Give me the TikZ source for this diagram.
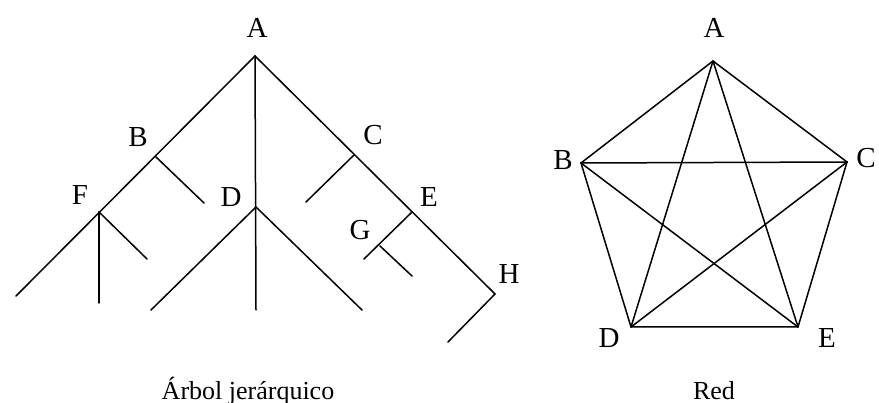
\documentclass[tikz,border=0pt]{standalone}
\usepackage{fontspec}
\setmainfont{Liberation Serif}
\begin{document}
\begin{tikzpicture}[x=1pt,y=-1pt,
  edge/.style={line width=1.5pt,line cap=round},
  lbl/.style={font=\fontsize{29}{31}\selectfont,inner sep=0pt},
  captxt/.style={font=\fontsize{26}{28}\selectfont,inner sep=0pt}]
\useasboundingbox (0,0) rectangle (879,403);
% ---- tree ----
\coordinate (tA) at (255,56);
\coordinate (tAv) at (256,310);
\coordinate (tLend) at (16,296);
\coordinate (tB) at (156,157);
\coordinate (tBend) at (204,203);
\coordinate (tF) at (99,212);
\coordinate (tFv) at (99,303);
\coordinate (tFd) at (147,259);
\coordinate (tD) at (256,207);
\coordinate (tDl) at (151,310);
\coordinate (tDr) at (362,310);
\coordinate (tH) at (495,294);
\coordinate (tC) at (354,155);
\coordinate (tCend) at (306,202);
\coordinate (tE) at (412,212);
\coordinate (tG) at (380,246);
\coordinate (tGl) at (364,259);
\coordinate (tGr) at (412,276);
\coordinate (tHend) at (448,342);
\draw[edge] (tA) -- (tAv);
\draw[edge] (tA) -- (tLend);
\draw[edge] (tB) -- (tBend);
\draw[edge] (tF) -- (tFv);
\draw[edge] (tF) -- (tFd);
\draw[edge] (tD) -- (tDl);
\draw[edge] (tD) -- (tDr);
\draw[edge] (tA) -- (tH) -- (tHend);
\draw[edge] (tC) -- (tCend);
\draw[edge] (tE) -- (tGl);
\draw[edge] (tG) -- (tGr);
\node[lbl] (ltA) at (257,28) {A};
\node[lbl] (ltB) at (138,137) {B};
\node[lbl] (ltC) at (373,135) {C};
\node[lbl] (ltF) at (80,195) {F};
\node[lbl] (ltD) at (231,197) {D};
\node[lbl] (ltE) at (429,197) {E};
\node[lbl] (ltG) at (360,230) {G};
\node[lbl] (ltH) at (509,274) {H};
\node[captxt] (captree) at (248,391) {Árbol jerárquico};
% ---- network ----
\coordinate (nA) at (713,61);
\coordinate (nB) at (581,163);
\coordinate (nC) at (847,162);
\coordinate (nD) at (631,327);
\coordinate (nE) at (798,327);
\draw[edge] (nA) -- (nB) -- (nD) -- (nE) -- (nC) -- (nA);
\draw[edge] (nA) -- (nD);
\draw[edge] (nA) -- (nE);
\draw[edge] (nB) -- (nC);
\draw[edge] (nB) -- (nE);
\draw[edge] (nC) -- (nD);
\node[lbl] (lnA) at (714,28) {A};
\node[lbl] (lnB) at (563,160) {B};
\node[lbl] (lnC) at (866,158) {C};
\node[lbl] (lnD) at (609,338) {D};
\node[lbl] (lnE) at (827,338) {E};
\node[captxt] (capnet) at (714,391) {Red};
\end{tikzpicture}
\end{document}
